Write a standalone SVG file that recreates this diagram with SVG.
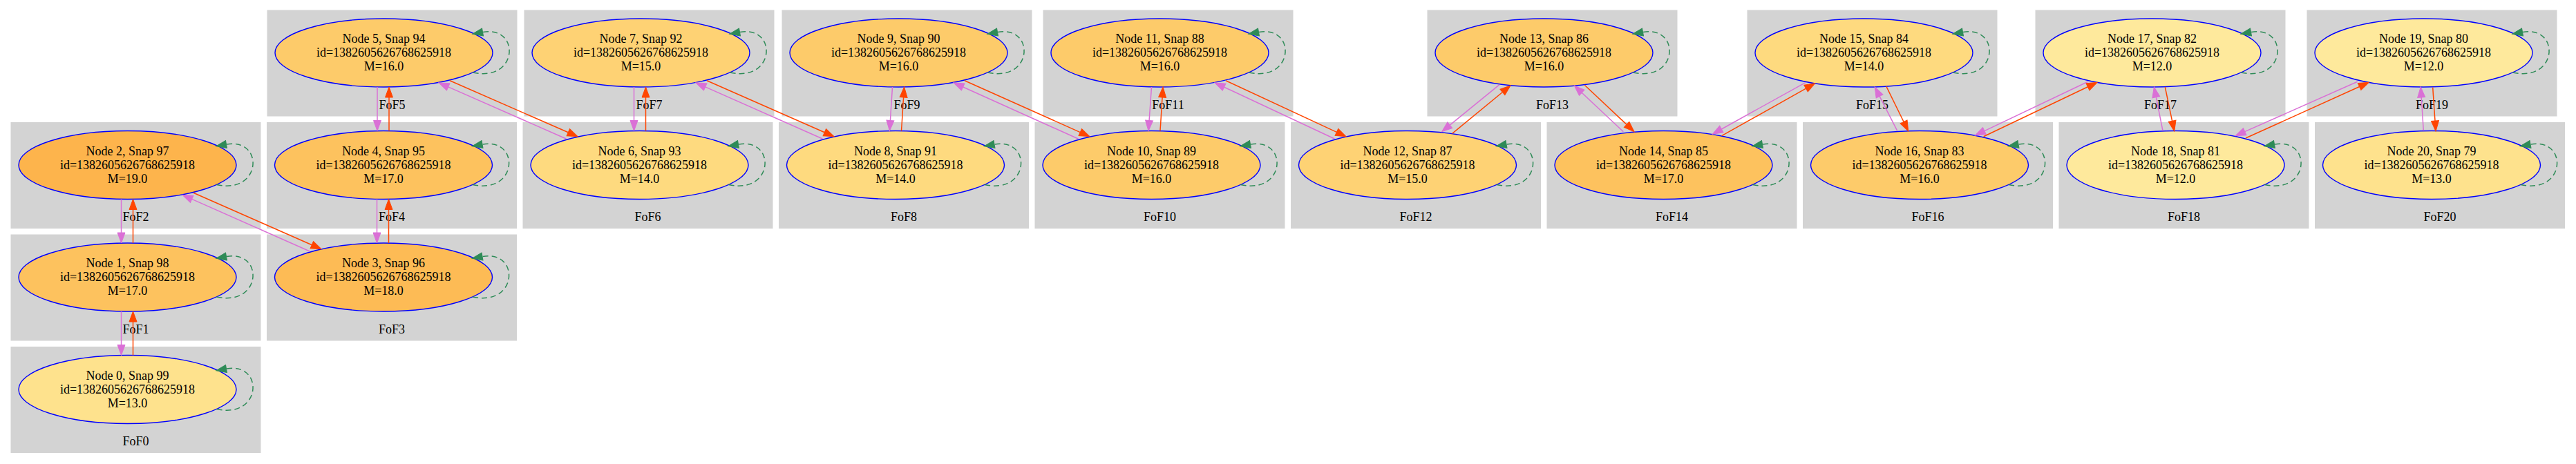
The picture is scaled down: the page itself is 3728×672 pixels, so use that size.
<svg xmlns="http://www.w3.org/2000/svg" width="3728" height="672" viewBox="0 0 3728 672">
<defs>
<style>
.cl{fill:#d3d3d3;stroke:#d3d3d3;stroke-width:1}
.nd{stroke:#0000ff;stroke-width:1.4}
.t{font-family:"Liberation Serif","Times New Roman",serif;font-size:18px;fill:#000000;text-anchor:middle}
.v{stroke:#da70d6;stroke-width:1.5;fill:none;marker-end:url(#av)}
.r{stroke:#ff4500;stroke-width:1.5;fill:none;marker-end:url(#ar)}
.lp{stroke:#2e8b57;stroke-width:1.5;fill:none;stroke-dasharray:8,5;marker-end:url(#ag)}
.m12{fill:#fee99c}.m13{fill:#fee28d}.m14{fill:#feda7f}.m15{fill:#fed274}
.m16{fill:#fdcb6a}.m17{fill:#fdc25e}.m18{fill:#fdbb55}.m19{fill:#fdb44c}
</style>
<marker id="av" markerUnits="userSpaceOnUse" orient="auto" refX="0" refY="5.5" markerWidth="15" markerHeight="11" overflow="visible"><path d="M0,0L15,5.5L0,11z" fill="#da70d6" stroke="#da70d6" stroke-width="1"/></marker>
<marker id="ar" markerUnits="userSpaceOnUse" orient="auto" refX="0" refY="5.5" markerWidth="15" markerHeight="11" overflow="visible"><path d="M0,0L15,5.5L0,11z" fill="#ff4500" stroke="#ff4500" stroke-width="1"/></marker>
<marker id="ag" markerUnits="userSpaceOnUse" orient="auto" refX="0" refY="5.5" markerWidth="15" markerHeight="11" overflow="visible"><path d="M0,0L15,5.5L0,11z" fill="#2e8b57" stroke="#2e8b57" stroke-width="1"/></marker>
</defs>
<rect x="0" y="0" width="3728" height="672" fill="#ffffff"/>

<g id="node0"><rect class="cl" x="16" y="502.5" width="361" height="153"/><text class="t" x="196.5" y="645">FoF0</text><ellipse class="nd m13" cx="184.5" cy="564" rx="157.5" ry="49.5"/><text class="t" x="184.5" y="549.5">Node 0, Snap 99</text><text class="t" x="184.5" y="569.5">id=1382605626768625918</text><text class="t" x="184.5" y="589.5">M=13.0</text></g>
<g id="node1"><rect class="cl" x="16" y="340" width="361" height="153"/><text class="t" x="196.5" y="482.5">FoF1</text><ellipse class="nd m17" cx="184.5" cy="401.5" rx="157.5" ry="49.5"/><text class="t" x="184.5" y="387">Node 1, Snap 98</text><text class="t" x="184.5" y="407">id=1382605626768625918</text><text class="t" x="184.5" y="427">M=17.0</text></g>
<g id="node2"><rect class="cl" x="16" y="177.5" width="361" height="153"/><text class="t" x="196.5" y="320">FoF2</text><ellipse class="nd m19" cx="184.5" cy="239" rx="157.5" ry="49.5"/><text class="t" x="184.5" y="224.5">Node 2, Snap 97</text><text class="t" x="184.5" y="244.5">id=1382605626768625918</text><text class="t" x="184.5" y="264.5">M=19.0</text></g>
<g id="node3"><rect class="cl" x="386.5" y="340" width="361" height="153"/><text class="t" x="567" y="482.5">FoF3</text><ellipse class="nd m18" cx="555" cy="401.5" rx="157.5" ry="49.5"/><text class="t" x="555" y="387">Node 3, Snap 96</text><text class="t" x="555" y="407">id=1382605626768625918</text><text class="t" x="555" y="427">M=18.0</text></g>
<g id="node4"><rect class="cl" x="386.5" y="177.5" width="361" height="153"/><text class="t" x="567" y="320">FoF4</text><ellipse class="nd m17" cx="555" cy="239" rx="157.5" ry="49.5"/><text class="t" x="555" y="224.5">Node 4, Snap 95</text><text class="t" x="555" y="244.5">id=1382605626768625918</text><text class="t" x="555" y="264.5">M=17.0</text></g>
<g id="node5"><rect class="cl" x="387" y="15" width="361" height="153"/><text class="t" x="567.5" y="157.5">FoF5</text><ellipse class="nd m16" cx="555.5" cy="76.5" rx="157.5" ry="49.5"/><text class="t" x="555.5" y="62">Node 5, Snap 94</text><text class="t" x="555.5" y="82">id=1382605626768625918</text><text class="t" x="555.5" y="102">M=16.0</text></g>
<g id="node6"><rect class="cl" x="757" y="177.5" width="361" height="153"/><text class="t" x="937.5" y="320">FoF6</text><ellipse class="nd m14" cx="925.5" cy="239" rx="157.5" ry="49.5"/><text class="t" x="925.5" y="224.5">Node 6, Snap 93</text><text class="t" x="925.5" y="244.5">id=1382605626768625918</text><text class="t" x="925.5" y="264.5">M=14.0</text></g>
<g id="node7"><rect class="cl" x="759" y="15" width="361" height="153"/><text class="t" x="939.5" y="157.5">FoF7</text><ellipse class="nd m15" cx="927.5" cy="76.5" rx="157.5" ry="49.5"/><text class="t" x="927.5" y="62">Node 7, Snap 92</text><text class="t" x="927.5" y="82">id=1382605626768625918</text><text class="t" x="927.5" y="102">M=15.0</text></g>
<g id="node8"><rect class="cl" x="1127.5" y="177.5" width="361" height="153"/><text class="t" x="1308" y="320">FoF8</text><ellipse class="nd m14" cx="1296" cy="239" rx="157.5" ry="49.5"/><text class="t" x="1296" y="224.5">Node 8, Snap 91</text><text class="t" x="1296" y="244.5">id=1382605626768625918</text><text class="t" x="1296" y="264.5">M=14.0</text></g>
<g id="node9"><rect class="cl" x="1132" y="15" width="361" height="153"/><text class="t" x="1312.5" y="157.5">FoF9</text><ellipse class="nd m16" cx="1300.5" cy="76.5" rx="157.5" ry="49.5"/><text class="t" x="1300.5" y="62">Node 9, Snap 90</text><text class="t" x="1300.5" y="82">id=1382605626768625918</text><text class="t" x="1300.5" y="102">M=16.0</text></g>
<g id="node10"><rect class="cl" x="1498" y="177.5" width="361" height="153"/><text class="t" x="1678.5" y="320">FoF10</text><ellipse class="nd m16" cx="1666.5" cy="239" rx="157.5" ry="49.5"/><text class="t" x="1666.5" y="224.5">Node 10, Snap 89</text><text class="t" x="1666.5" y="244.5">id=1382605626768625918</text><text class="t" x="1666.5" y="264.5">M=16.0</text></g>
<g id="node11"><rect class="cl" x="1510" y="15" width="361" height="153"/><text class="t" x="1690.5" y="157.5">FoF11</text><ellipse class="nd m16" cx="1678.5" cy="76.5" rx="157.5" ry="49.5"/><text class="t" x="1678.5" y="62">Node 11, Snap 88</text><text class="t" x="1678.5" y="82">id=1382605626768625918</text><text class="t" x="1678.5" y="102">M=16.0</text></g>
<g id="node12"><rect class="cl" x="1868.5" y="177.5" width="361" height="153"/><text class="t" x="2049" y="320">FoF12</text><ellipse class="nd m15" cx="2037" cy="239" rx="157.5" ry="49.5"/><text class="t" x="2037" y="224.5">Node 12, Snap 87</text><text class="t" x="2037" y="244.5">id=1382605626768625918</text><text class="t" x="2037" y="264.5">M=15.0</text></g>
<g id="node13"><rect class="cl" x="2066" y="15" width="361" height="153"/><text class="t" x="2246.5" y="157.5">FoF13</text><ellipse class="nd m16" cx="2234.5" cy="76.5" rx="157.5" ry="49.5"/><text class="t" x="2234.5" y="62">Node 13, Snap 86</text><text class="t" x="2234.5" y="82">id=1382605626768625918</text><text class="t" x="2234.5" y="102">M=16.0</text></g>
<g id="node14"><rect class="cl" x="2239" y="177.5" width="361" height="153"/><text class="t" x="2419.5" y="320">FoF14</text><ellipse class="nd m17" cx="2407.5" cy="239" rx="157.5" ry="49.5"/><text class="t" x="2407.5" y="224.5">Node 14, Snap 85</text><text class="t" x="2407.5" y="244.5">id=1382605626768625918</text><text class="t" x="2407.5" y="264.5">M=17.0</text></g>
<g id="node15"><rect class="cl" x="2529" y="15" width="361" height="153"/><text class="t" x="2709.5" y="157.5">FoF15</text><ellipse class="nd m14" cx="2697.5" cy="76.5" rx="157.5" ry="49.5"/><text class="t" x="2697.5" y="62">Node 15, Snap 84</text><text class="t" x="2697.5" y="82">id=1382605626768625918</text><text class="t" x="2697.5" y="102">M=14.0</text></g>
<g id="node16"><rect class="cl" x="2609.5" y="177.5" width="361" height="153"/><text class="t" x="2790" y="320">FoF16</text><ellipse class="nd m16" cx="2778" cy="239" rx="157.5" ry="49.5"/><text class="t" x="2778" y="224.5">Node 16, Snap 83</text><text class="t" x="2778" y="244.5">id=1382605626768625918</text><text class="t" x="2778" y="264.5">M=16.0</text></g>
<g id="node17"><rect class="cl" x="2946" y="15" width="361" height="153"/><text class="t" x="3126.5" y="157.5">FoF17</text><ellipse class="nd m12" cx="3114.5" cy="76.5" rx="157.5" ry="49.5"/><text class="t" x="3114.5" y="62">Node 17, Snap 82</text><text class="t" x="3114.5" y="82">id=1382605626768625918</text><text class="t" x="3114.5" y="102">M=12.0</text></g>
<g id="node18"><rect class="cl" x="2980" y="177.5" width="361" height="153"/><text class="t" x="3160.5" y="320">FoF18</text><ellipse class="nd m12" cx="3148.5" cy="239" rx="157.5" ry="49.5"/><text class="t" x="3148.5" y="224.5">Node 18, Snap 81</text><text class="t" x="3148.5" y="244.5">id=1382605626768625918</text><text class="t" x="3148.5" y="264.5">M=12.0</text></g>
<g id="node19"><rect class="cl" x="3339" y="15" width="361" height="153"/><text class="t" x="3519.5" y="157.5">FoF19</text><ellipse class="nd m12" cx="3507.5" cy="76.5" rx="157.5" ry="49.5"/><text class="t" x="3507.5" y="62">Node 19, Snap 80</text><text class="t" x="3507.5" y="82">id=1382605626768625918</text><text class="t" x="3507.5" y="102">M=12.0</text></g>
<g id="node20"><rect class="cl" x="3350.5" y="177.5" width="361" height="153"/><text class="t" x="3531" y="320">FoF20</text><ellipse class="nd m13" cx="3519" cy="239" rx="157.5" ry="49.5"/><text class="t" x="3519" y="224.5">Node 20, Snap 79</text><text class="t" x="3519" y="244.5">id=1382605626768625918</text><text class="t" x="3519" y="264.5">M=13.0</text></g>

<g id="connectors">
<path class="v" d="M175.5,451L175.5,499.5"/>
<path class="r" d="M192.5,514.5L192.5,466"/>
<path class="v" d="M175.5,288.5L175.5,337"/>
<path class="r" d="M192.5,352L192.5,303.5"/>
<path class="r" d="M280,279.3L451.3,354.7"/>
<path class="v" d="M448.3,364L277.7,288.4"/>
<path class="v" d="M545.5,288.5L545.5,337"/>
<path class="r" d="M562.5,352L562.5,303.5"/>
<path class="v" d="M546,126L546,174.5"/>
<path class="r" d="M563,189.5L563,141"/>
<path class="r" d="M651,116.8L822.3,191.7"/>
<path class="v" d="M819.3,201L648.7,125.9"/>
<path class="v" d="M917.5,126L917.5,174.5"/>
<path class="r" d="M934.5,189.5L934.5,141"/>
<path class="r" d="M1023,116.8L1193.3,191.7"/>
<path class="v" d="M1190.3,201L1020.7,125.9"/>
<path class="v" d="M1291.5,126L1288.4,174.5"/>
<path class="r" d="M1304.5,189.5L1307.6,141"/>
<path class="r" d="M1396,116.8L1563.3,191.6"/>
<path class="v" d="M1560.3,201L1393.7,126"/>
<path class="v" d="M1666.5,126L1663.1,174.5"/>
<path class="r" d="M1679,189.5L1682.1,141"/>
<path class="r" d="M1774,116.8L1934.4,191.4"/>
<path class="v" d="M1931.3,201L1771.6,126.2"/>
<path class="v" d="M2170,122.7L2098.3,181.2"/>
<path class="r" d="M2101.7,193.3L2174.4,133.5"/>
<path class="v" d="M2349.3,190.7L2289.2,134.3"/>
<path class="r" d="M2293.3,123.3L2354.1,180.4"/>
<path class="v" d="M2613.3,119.3L2491.4,187"/>
<path class="r" d="M2491.7,196.7L2613.6,128.1"/>
<path class="v" d="M2745.7,189.3L2720.1,139.4"/>
<path class="r" d="M2730,125.3L2755.1,176.5"/>
<path class="v" d="M3021.7,118.3L2871.9,189.6"/>
<path class="r" d="M2870.7,197.7L3021.5,125.8"/>
<path class="v" d="M3130,189.3L3120.3,140.7"/>
<path class="r" d="M3133.3,126L3143.6,175.3"/>
<path class="v" d="M3411.7,118.3L3248.7,190.6"/>
<path class="r" d="M3250,200L3414.6,125.5"/>
<path class="v" d="M3507.3,189.3L3504.2,141"/>
<path class="r" d="M3520.7,126.7L3524,175"/>
<path class="lp" transform="translate(184.5,564)" d="M129,28.5C195,43 198,-40 143,-30"/>
<path class="lp" transform="translate(184.5,401.5)" d="M129,28.5C195,43 198,-40 143,-30"/>
<path class="lp" transform="translate(184.5,239)" d="M129,28.5C195,43 198,-40 143,-30"/>
<path class="lp" transform="translate(555,401.5)" d="M129,28.5C195,43 198,-40 143,-30"/>
<path class="lp" transform="translate(555,239)" d="M129,28.5C195,43 198,-40 143,-30"/>
<path class="lp" transform="translate(555.5,76.5)" d="M129,28.5C195,43 198,-40 143,-30"/>
<path class="lp" transform="translate(925.5,239)" d="M129,28.5C195,43 198,-40 143,-30"/>
<path class="lp" transform="translate(927.5,76.5)" d="M129,28.5C195,43 198,-40 143,-30"/>
<path class="lp" transform="translate(1296,239)" d="M129,28.5C195,43 198,-40 143,-30"/>
<path class="lp" transform="translate(1300.5,76.5)" d="M129,28.5C195,43 198,-40 143,-30"/>
<path class="lp" transform="translate(1666.5,239)" d="M129,28.5C195,43 198,-40 143,-30"/>
<path class="lp" transform="translate(1678.5,76.5)" d="M129,28.5C195,43 198,-40 143,-30"/>
<path class="lp" transform="translate(2037,239)" d="M129,28.5C195,43 198,-40 143,-30"/>
<path class="lp" transform="translate(2234.5,76.5)" d="M129,28.5C195,43 198,-40 143,-30"/>
<path class="lp" transform="translate(2407.5,239)" d="M129,28.5C195,43 198,-40 143,-30"/>
<path class="lp" transform="translate(2697.5,76.5)" d="M129,28.5C195,43 198,-40 143,-30"/>
<path class="lp" transform="translate(2778,239)" d="M129,28.5C195,43 198,-40 143,-30"/>
<path class="lp" transform="translate(3114.5,76.5)" d="M129,28.5C195,43 198,-40 143,-30"/>
<path class="lp" transform="translate(3148.5,239)" d="M129,28.5C195,43 198,-40 143,-30"/>
<path class="lp" transform="translate(3507.5,76.5)" d="M129,28.5C195,43 198,-40 143,-30"/>
<path class="lp" transform="translate(3519,239)" d="M129,28.5C195,43 198,-40 143,-30"/>
</g>
</svg>
